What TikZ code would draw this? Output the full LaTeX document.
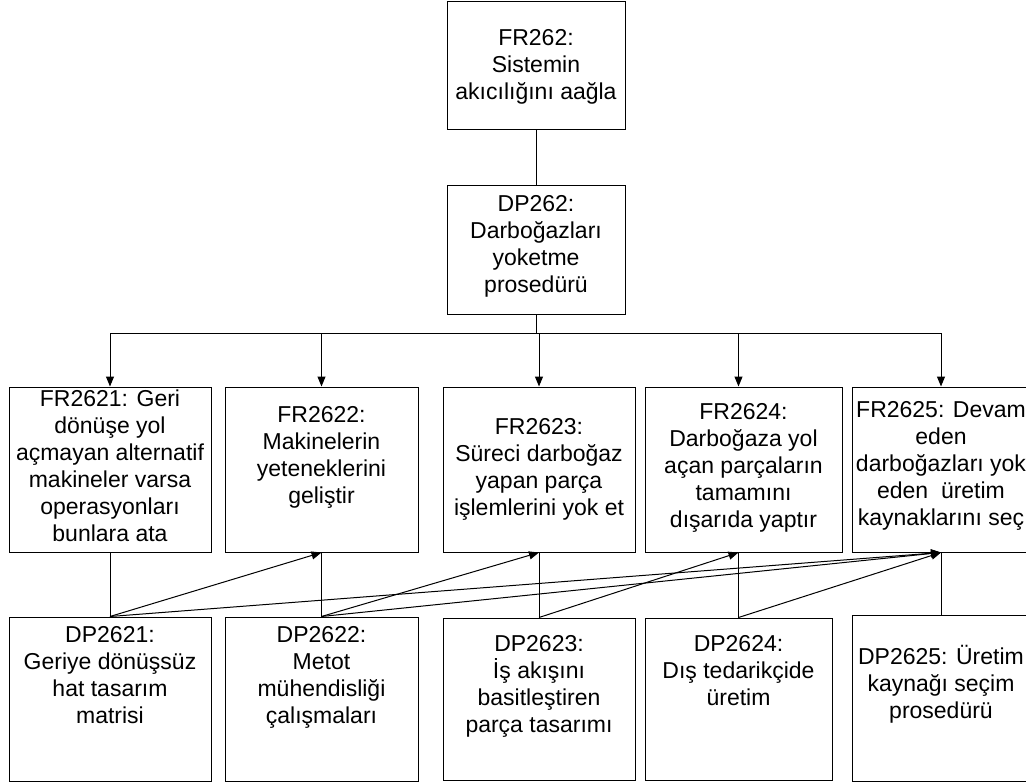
\documentclass[tikz,border=0pt]{standalone}
\usepackage{fontspec}
\setmainfont{Liberation Sans}
\usetikzlibrary{arrows.meta,calc}
\begin{document}
\begin{tikzpicture}[x=1pt,y=-1pt,line width=1pt,
  box/.style={draw=black,fill=white,inner sep=0pt,line width=1pt},
  txt/.style={align=center,inner sep=0pt,anchor=north,
    font=\fontsize{23}{27}\selectfont,
    execute at begin node={\rule{0pt}{21pt}}},
  arr/.style={-{Triangle[length=10pt,width=8pt]}}]
\useasboundingbox (0,0) rectangle (1026,784);

% top level
\node[box,minimum width=178,minimum height=127] (fr262) at (536,65.5) {};
\node[box,minimum width=178,minimum height=129] (dp262) at (536,249.5) {};

% functional requirements
\node[box,minimum width=202,minimum height=165] (fr2621) at (110,469.5) {};
\node[box,minimum width=193,minimum height=165] (fr2622) at (321.5,469.5) {};
\node[box,minimum width=192,minimum height=165] (fr2623) at (539,469.5) {};
\node[box,minimum width=197,minimum height=165] (fr2624) at (743.5,469.5) {};
\node[box,minimum width=178,minimum height=165] (fr2625) at (941,469.5) {};

% design parameters
\node[box,minimum width=202,minimum height=164] (dp2621) at (110,699) {};
\node[box,minimum width=193,minimum height=164] (dp2622) at (321.5,699) {};
\node[box,minimum width=192,minimum height=162] (dp2623) at (539,699) {};
\node[box,minimum width=187,minimum height=162] (dp2624) at (738.5,699) {};
\node[box,minimum width=178,minimum height=166] (dp2625) at (941,698) {};

% labels
\node[txt] (fr262-t) at (536,29) {FR262:\\Sistemin\\akıcılığını aağla};
\node[txt] (dp262-t) at (536,195) {DP262:\\Darboğazları\\yoketme\\prosedürü};
\node[txt] (fr2621-t) at (110,389) {FR2621: Geri\\dönüşe yol\\açmayan alternatif\\makineler varsa\\operasyonları\\bunlara ata};
\node[txt] (fr2622-t) at (321.5,406) {FR2622:\\Makinelerin\\yeteneklerini\\geliştir};
\node[txt] (fr2623-t) at (539,418) {FR2623:\\Süreci darboğaz\\yapan parça\\işlemlerini yok et};
\node[txt] (fr2624-t) at (743.5,403) {FR2624:\\Darboğaza yol\\açan parçaların\\tamamını\\dışarıda yaptır};
\node[txt] (fr2625-t) at (941,401) {FR2625: Devam\\eden\\darboğazları yok\\eden\ \ üretim\\kaynaklarını seç};
\node[txt] (dp2621-t) at (110,626) {DP2621:\\Geriye dönüşsüz\\hat tasarım\\matrisi};
\node[txt] (dp2622-t) at (321.5,626) {DP2622:\\Metot\\mühendisliği\\çalışmaları};
\node[txt] (dp2623-t) at (539,635) {DP2623:\\İş akışını\\basitleştiren\\parça tasarımı};
\node[txt] (dp2624-t) at (738.5,635) {DP2624:\\Dış tedarikçide\\üretim};
\node[txt] (dp2625-t) at (941,645) {DP2625: Üretim\\kaynağı seçim\\prosedürü};

% decomposition tree
\coordinate (bus) at (0,333);
\draw (fr262) -- (dp262);
\draw (dp262.south) -- (dp262.south |- bus);
\draw (fr2621.north |- bus) -- (fr2625.north |- bus);
\draw[arr] (fr2621.north |- bus) -- (fr2621.north);
\draw[arr] (fr2622.north |- bus) -- (fr2622.north);
\draw[arr] (fr2623.north |- bus) -- (fr2623.north);
\draw[arr] (dp2624.north |- bus) -- (dp2624.north |- fr2624.north);
\draw[arr] (fr2625.north |- bus) -- (fr2625.north);

% FR-DP pairs
\draw (fr2621) -- (dp2621);
\draw (fr2622) -- (dp2622);
\draw (fr2623) -- (dp2623);
\draw (dp2624.north |- fr2624.south) -- (dp2624.north);
\draw (fr2625) -- (dp2625);

% off-diagonal couplings
\draw[arr] (dp2621.north) -- (fr2622.south);
\draw[arr] (dp2621.north) -- (fr2625.south);
\draw[arr] (dp2622.north) -- (fr2623.south);
\draw[arr] (dp2622.north) -- (fr2625.south);
\draw[arr] (dp2623.north) -- (dp2624.north |- fr2624.south);
\draw[arr] (dp2624.north) -- (fr2625.south);
\end{tikzpicture}
\end{document}
